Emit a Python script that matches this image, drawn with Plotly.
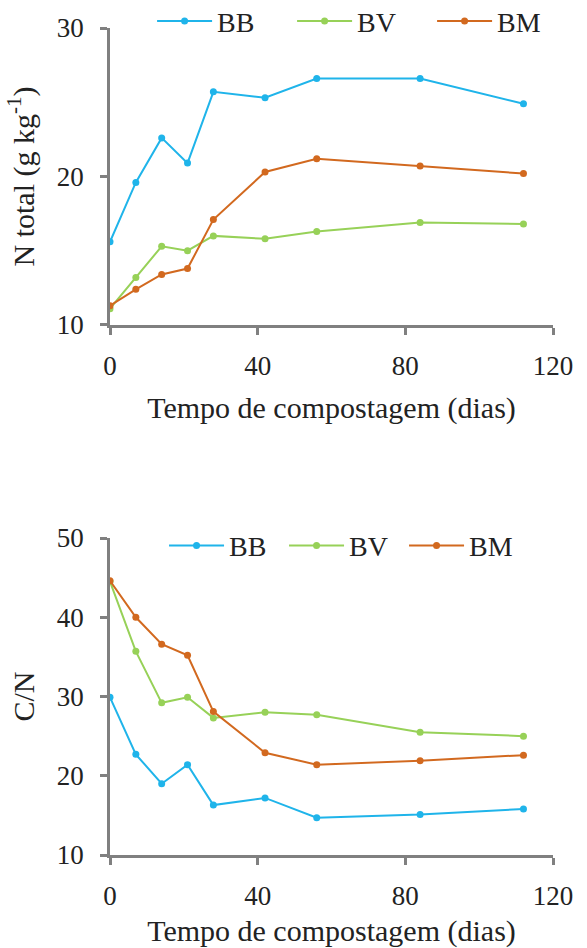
import plotly.graph_objects as go

days = [0, 7, 14, 21, 28, 42, 56, 84, 112]
series_names = ["BB", "BV", "BM"]
colors = {"BB": "#1FB4EA", "BV": "#97D158", "BM": "#D2691F"}

n_BB = [15.6, 19.6, 22.6, 20.9, 25.7, 25.3, 26.6, 26.6, 24.9]
n_BV = [11.1, 13.2, 15.3, 15.0, 16.0, 15.8, 16.3, 16.9, 16.8]
n_BM = [11.3, 12.4, 13.4, 13.8, 17.1, 20.3, 21.2, 20.7, 20.2]

cn_BB = [29.9, 22.7, 19.0, 21.4, 16.3, 17.2, 14.7, 15.1, 15.8]
cn_BV = [44.5, 35.7, 29.2, 29.9, 27.3, 28.0, 27.7, 25.5, 25.0]
cn_BM = [44.6, 40.0, 36.6, 35.2, 28.1, 22.9, 21.4, 21.9, 22.6]

n_data = {"BB": n_BB, "BV": n_BV, "BM": n_BM}
cn_data = {"BB": cn_BB, "BV": cn_BV, "BM": cn_BM}

FONT = "Liberation Serif, Times New Roman, serif"
AX = "#808080"
TXT = "#222222"

fig = go.Figure()
for name in series_names:
    fig.add_trace(go.Scatter(x=days, y=n_data[name], name=name, mode="lines+markers",
                             line=dict(color=colors[name], width=2),
                             marker=dict(color=colors[name], size=7),
                             xaxis="x", yaxis="y", legend="legend"))
for name in series_names:
    fig.add_trace(go.Scatter(x=days, y=cn_data[name], name=name, mode="lines+markers",
                             line=dict(color=colors[name], width=2),
                             marker=dict(color=colors[name], size=7),
                             xaxis="x2", yaxis="y2", legend="legend2"))

axcommon = dict(showline=True, linecolor=AX, linewidth=2.5, ticks="outside", ticklen=7,
                tickcolor=AX, tickwidth=2.5, showgrid=False, zeroline=False,
                automargin=False,
                tickfont=dict(family=FONT, size=27, color=TXT),
                title_font=dict(family=FONT, size=30, color=TXT))

fig.update_layout(
    width=587, height=948,
    margin=dict(l=110, r=34, t=28, b=93, autoexpand=False),
    paper_bgcolor="white", plot_bgcolor="white",
    showlegend=True,
    xaxis=dict(domain=[0, 1], anchor="y", range=[0, 120], tickvals=[0, 40, 80, 120],
               title=dict(text="Tempo de compostagem (dias)", standoff=17),
               ticklabelstandoff=8, **axcommon),
    yaxis=dict(domain=[0.6409, 1], anchor="x", range=[10, 30], tickvals=[10, 20, 30],
               title=dict(text="N total (g kg<sup>-1</sup>)", standoff=14),
               ticklabelstandoff=11, **axcommon),
    xaxis2=dict(domain=[0, 1], anchor="y2", range=[0, 120], tickvals=[0, 40, 80, 120],
                title=dict(text="Tempo de compostagem (dias)", standoff=15),
                ticklabelstandoff=8, **axcommon),
    yaxis2=dict(domain=[0, 0.3833], anchor="x2", range=[10, 50], tickvals=[10, 20, 30, 40, 50],
                title=dict(text="C/N", standoff=14),
                ticklabelstandoff=11, **axcommon),
    legend=dict(orientation="h", x=0.095, y=1.008, xanchor="left", yanchor="middle",
                font=dict(family=FONT, size=28, color=TXT), bgcolor="rgba(0,0,0,0)",
                entrywidth=70, entrywidthmode="pixels", itemwidth=55),
    legend2=dict(orientation="h", x=0.122, y=0.374, xanchor="left", yanchor="middle",
                 font=dict(family=FONT, size=28, color=TXT), bgcolor="rgba(0,0,0,0)",
                 entrywidth=50, entrywidthmode="pixels", itemwidth=55),
)

fig.write_html("out.html")
